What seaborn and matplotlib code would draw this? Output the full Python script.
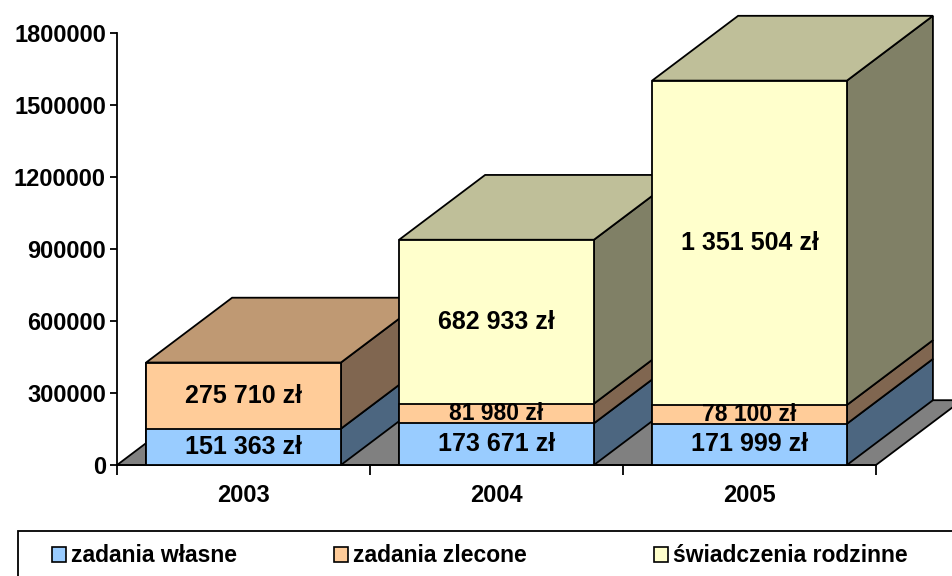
import matplotlib
matplotlib.use('Agg')
import matplotlib.pyplot as plt
import matplotlib.patches as patches
from matplotlib.ticker import FuncFormatter, FixedLocator
import seaborn as sns
import numpy as np

years = ['2003', '2004', '2005']
zadania_wlasne = [151363, 173671, 171999]
zadania_zlecone = [275710, 81980, 78100]
swiadczenia_rodzinne = [0, 682933, 1351504]
series_names = ['zadania własne', 'zadania zlecone', 'świadczenia rodzinne']
yticks = [0, 300000, 600000, 900000, 1200000, 1500000, 1800000]

front_colors = ['#99CCFF', '#FFCC99', '#FFFFCC']
side_colors = ['#4C6680', '#806650', '#808066']
top_colors = ['#7399BF', '#BF9973', '#BFBF99']
floor_color = '#808080'
# 3d depth offset (category units, value units)
depth_x = 0.34
depth_y = 270000

sns.set_style('white')
plt.rcParams['font.family'] = ['Liberation Sans', 'DejaVu Sans']
plt.rcParams['font.weight'] = 'bold'
plt.rcParams['text.color'] = 'black'
plt.rcParams['xtick.color'] = 'black'
plt.rcParams['ytick.color'] = 'black'

fig = plt.figure(figsize=(9.53, 5.76), dpi=100)
ax = fig.add_axes([0.1228, 0.1927, 0.7964, 0.75])

values = np.array([zadania_wlasne, zadania_zlecone, swiadczenia_rodzinne])
tops = values.cumsum(axis=0)
bottoms = tops - values

# stacked fronts: full totals first, lower stacks drawn over them
order = [2, 1, 0]
for k in order:
    sns.barplot(x=years, y=tops[k], color=front_colors[k], saturation=1,
                width=0.77, edgecolor='black', linewidth=1.3, errorbar=None, ax=ax)

bars = ax.patches[:]
for j, p in enumerate(bars):
    i = j % 3
    p.set_zorder(11 + 2 * i)
    p.set_clip_on(False)

# side and top faces, from the front patches geometry
for i in range(3):
    p = bars[i]
    x0 = p.get_x()
    x1 = x0 + p.get_width()
    nonzero = [k for k in range(3) if values[k][i] > 0]
    for k in nonzero:
        b, t = bottoms[k][i], tops[k][i]
        side = patches.Polygon([(x1, b), (x1 + depth_x, b + depth_y), (x1 + depth_x, t + depth_y), (x1, t)],
                               closed=True, facecolor=side_colors[k], edgecolor='black',
                               linewidth=1.3, zorder=10 + 2 * i, clip_on=False)
        ax.add_patch(side)
    k = nonzero[-1]
    t = tops[k][i]
    top = patches.Polygon([(x0, t), (x1, t), (x1 + depth_x, t + depth_y), (x0 + depth_x, t + depth_y)],
                          closed=True, facecolor=top_colors[k], edgecolor='black',
                          linewidth=1.3, zorder=10 + 2 * i, clip_on=False)
    ax.add_patch(top)
    for k in nonzero:
        v = values[k][i]
        lab = f"{v:,}".replace(',', ' ') + ' zł'
        fs = 18 if v > 100000 else 16.5
        ax.text(i, (bottoms[k][i] + tops[k][i]) / 2, lab, ha='center', va='center',
                fontsize=fs, fontweight='bold', zorder=30)

floor = patches.Polygon([(-0.5, 0), (2.5, 0), (2.5 + depth_x, depth_y), (-0.5 + depth_x, depth_y)],
                        closed=True, facecolor=floor_color, edgecolor='black', linewidth=1.3,
                        zorder=5, clip_on=False)
ax.add_patch(floor)

ax.set_xlim(-0.5, 2.5)
ax.set_ylim(0, 1800000)
ax.set_yticks(yticks)
ax.yaxis.set_major_formatter(FuncFormatter(lambda v, pos: f"{int(v)}"))
ax.xaxis.set_minor_locator(FixedLocator([-0.5, 0.5, 1.5, 2.5]))
ax.tick_params(axis='y', direction='out', length=5, width=1.3, labelsize=17, pad=3, left=True)
ax.tick_params(axis='x', which='major', length=0, labelsize=17, pad=14)
ax.tick_params(axis='x', which='minor', direction='out', length=7, width=1.3, bottom=True)
ax.set_xlabel('')
ax.set_ylabel('')
for s in ['top', 'right']:
    ax.spines[s].set_visible(False)
for s in ['left', 'bottom']:
    ax.spines[s].set_color('black')
    ax.spines[s].set_linewidth(1.3)
    ax.spines[s].set_zorder(6)

# legend: frame running off the figure, entries placed one by one
frame = patches.Rectangle((18 / 953, -0.1), 1.0, (1 - 531 / 576) + 0.1, transform=fig.transFigure,
                          fill=False, edgecolor='black', linewidth=1.3)
fig.patches.append(frame)
legend_x = [52 / 953, 334 / 953, 654 / 953]
for k in range(3):
    h = patches.Patch(facecolor=front_colors[k], edgecolor='black', linewidth=1.2, label=series_names[k])
    fig.legend(handles=[h], loc='center left', bbox_to_anchor=(legend_x[k], 1 - 556 / 576),
               frameon=False, prop=dict(weight='bold', size=16.5), handlelength=0.62, handleheight=0.62,
               handletextpad=0.2, borderpad=0, borderaxespad=0)

fig.savefig('out.png', dpi=100)
